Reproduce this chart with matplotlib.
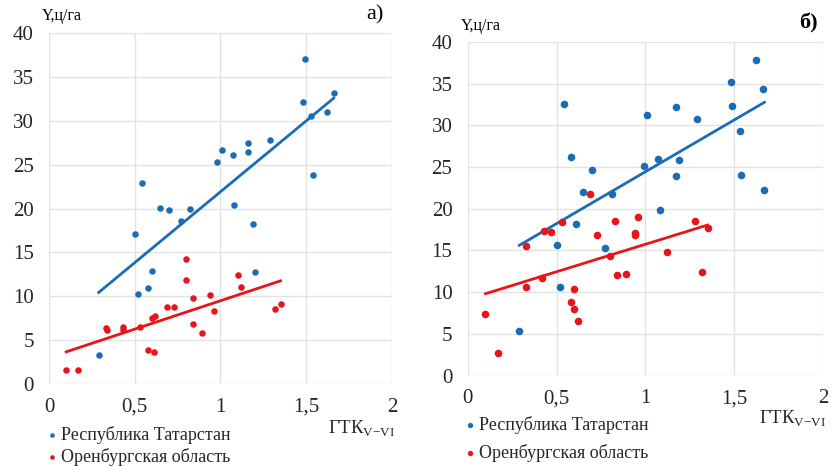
import numpy as np
import matplotlib
matplotlib.use('Agg')
import matplotlib.pyplot as plt

plt.rcParams['font.family'] = ['Liberation Serif', 'DejaVu Serif']
plt.rcParams['mathtext.fontset'] = 'custom'
plt.rcParams['mathtext.rm'] = 'Liberation Serif'

BLUE = '#1A6DB5'
RED = '#E8141B'

# panel a)
tat_a_x = [0.29, 0.50, 0.52, 0.54, 0.58, 0.60, 0.65, 0.70, 0.77, 0.82, 0.98, 1.01, 1.07, 1.08,
           1.16, 1.16, 1.19, 1.20, 1.29, 1.48, 1.49, 1.53, 1.54, 1.62, 1.66]
tat_a_y = [3.3, 17.1, 10.3, 22.9, 10.9, 12.9, 20.1, 19.8, 18.6, 19.9, 25.3, 26.7, 26.1, 20.4,
           27.5, 26.5, 18.2, 12.8, 27.8, 32.2, 37.0, 30.5, 23.8, 31.0, 33.2]
orb_a_x = [0.10, 0.17, 0.33, 0.34, 0.43, 0.43, 0.53, 0.58, 0.60, 0.61, 0.62, 0.69, 0.73, 0.80,
           0.80, 0.84, 0.84, 0.89, 0.94, 0.96, 1.10, 1.12, 1.32, 1.35]
orb_a_y = [1.6, 1.6, 6.4, 6.1, 6.5, 6.2, 6.5, 3.9, 7.5, 3.6, 7.8, 8.8, 8.8, 14.2,
           11.8, 9.8, 6.8, 5.8, 10.1, 8.3, 12.4, 11.1, 8.5, 9.1]

# panel б)
tat_b_x = [0.29, 0.50, 0.52, 0.54, 0.58, 0.61, 0.65, 0.70, 0.77, 0.81, 0.99, 1.01, 1.07, 1.08,
           1.17, 1.17, 1.19, 1.29, 1.48, 1.49, 1.53, 1.54, 1.62, 1.66, 1.67]
tat_b_y = [5.4, 15.6, 10.6, 32.6, 26.2, 18.2, 22.0, 24.6, 15.3, 21.8, 25.1, 31.3, 26.0, 19.8,
           32.2, 23.9, 25.8, 30.8, 35.2, 32.3, 29.3, 24.0, 37.8, 34.4, 22.2]
orb_b_x = [0.10, 0.17, 0.33, 0.33, 0.42, 0.43, 0.47, 0.53, 0.58, 0.60, 0.60, 0.62, 0.69, 0.73,
           0.80, 0.83, 0.84, 0.89, 0.94, 0.94, 0.96, 1.12, 1.28, 1.32, 1.35]
orb_b_y = [7.4, 2.7, 15.5, 10.6, 11.7, 17.3, 17.2, 18.4, 8.8, 8.0, 10.4, 6.6, 21.8, 16.8,
           14.3, 18.5, 12.1, 12.2, 17.1, 16.8, 19.0, 14.8, 18.5, 12.4, 17.7]

series_names = ['Республика Татарстан', 'Оренбургская область']


def draw_panel(ax, tx, ty, ox, oy, ms, tag, tag_bold, tag_x, leg_y, leg_sp):
    for x, y, c, name in [(tx, ty, BLUE, series_names[0]), (ox, oy, RED, series_names[1])]:
        x = np.array(x)
        y = np.array(y)
        ax.scatter(x, y, s=ms, color=c, zorder=3, label=name, linewidths=0)
        k, b = np.polyfit(x, y, 1)
        xx = np.array([x.min(), x.max()])
        ax.plot(xx, k * xx + b, color=c, lw=2, zorder=2)
    ax.set_xlim(0, 2)
    ax.set_ylim(0, 40)
    ax.set_xticks(np.arange(0, 2.01, 0.5))
    ax.set_xticklabels(['0', '0,5', '1', '1,5', '2'])
    ax.set_yticks(range(0, 41, 5))
    ax.grid(True, color='#e3e3e3', lw=1)
    ax.set_axisbelow(True)
    for s in ax.spines.values():
        s.set_visible(False)
    ax.tick_params(length=0, labelsize=15, labelcolor='#262626')
    ax.tick_params(axis='y', pad=11)
    ax.tick_params(axis='x', pad=10)
    ax.text(-0.02, 1.025, 'Y,ц/га', transform=ax.transAxes, fontsize=11.5, ha='left', va='bottom')
    ax.text(tag_x, 1.025, tag, transform=ax.transAxes, fontsize=16, ha='right', va='bottom',
            fontweight='bold' if tag_bold else 'normal')
    ax.text(1.01, -0.1, 'ГТК$_{\\mathrm{V{-}VI}}$', transform=ax.transAxes, fontsize=13.5,
            ha='right', va='top', color='#262626')
    leg = ax.legend(loc='upper left', bbox_to_anchor=(-0.04, leg_y), frameon=False,
                    handletextpad=0.0, handlelength=1.0, labelspacing=leg_sp, borderaxespad=0,
                    prop={'family': 'Liberation Serif', 'size': 13}, markerscale=0.7)
    for t in leg.get_texts():
        t.set_color('#262626')
    return leg


fig = plt.figure(figsize=(8.33, 4.66), dpi=100)
ax1 = fig.add_axes([0.0588, 0.176, 0.4118, 0.753])
ax2 = fig.add_axes([0.5615, 0.194, 0.4265, 0.716])

draw_panel(ax1, tat_a_x, tat_a_y, orb_a_x, orb_a_y, 22, 'а)', False, 0.975, -0.098, 0.22)
draw_panel(ax2, tat_b_x, tat_b_y, orb_b_x, orb_b_y, 30, 'б)', True, 0.985, -0.1, 0.55)

fig.savefig('out.png', dpi=100)
